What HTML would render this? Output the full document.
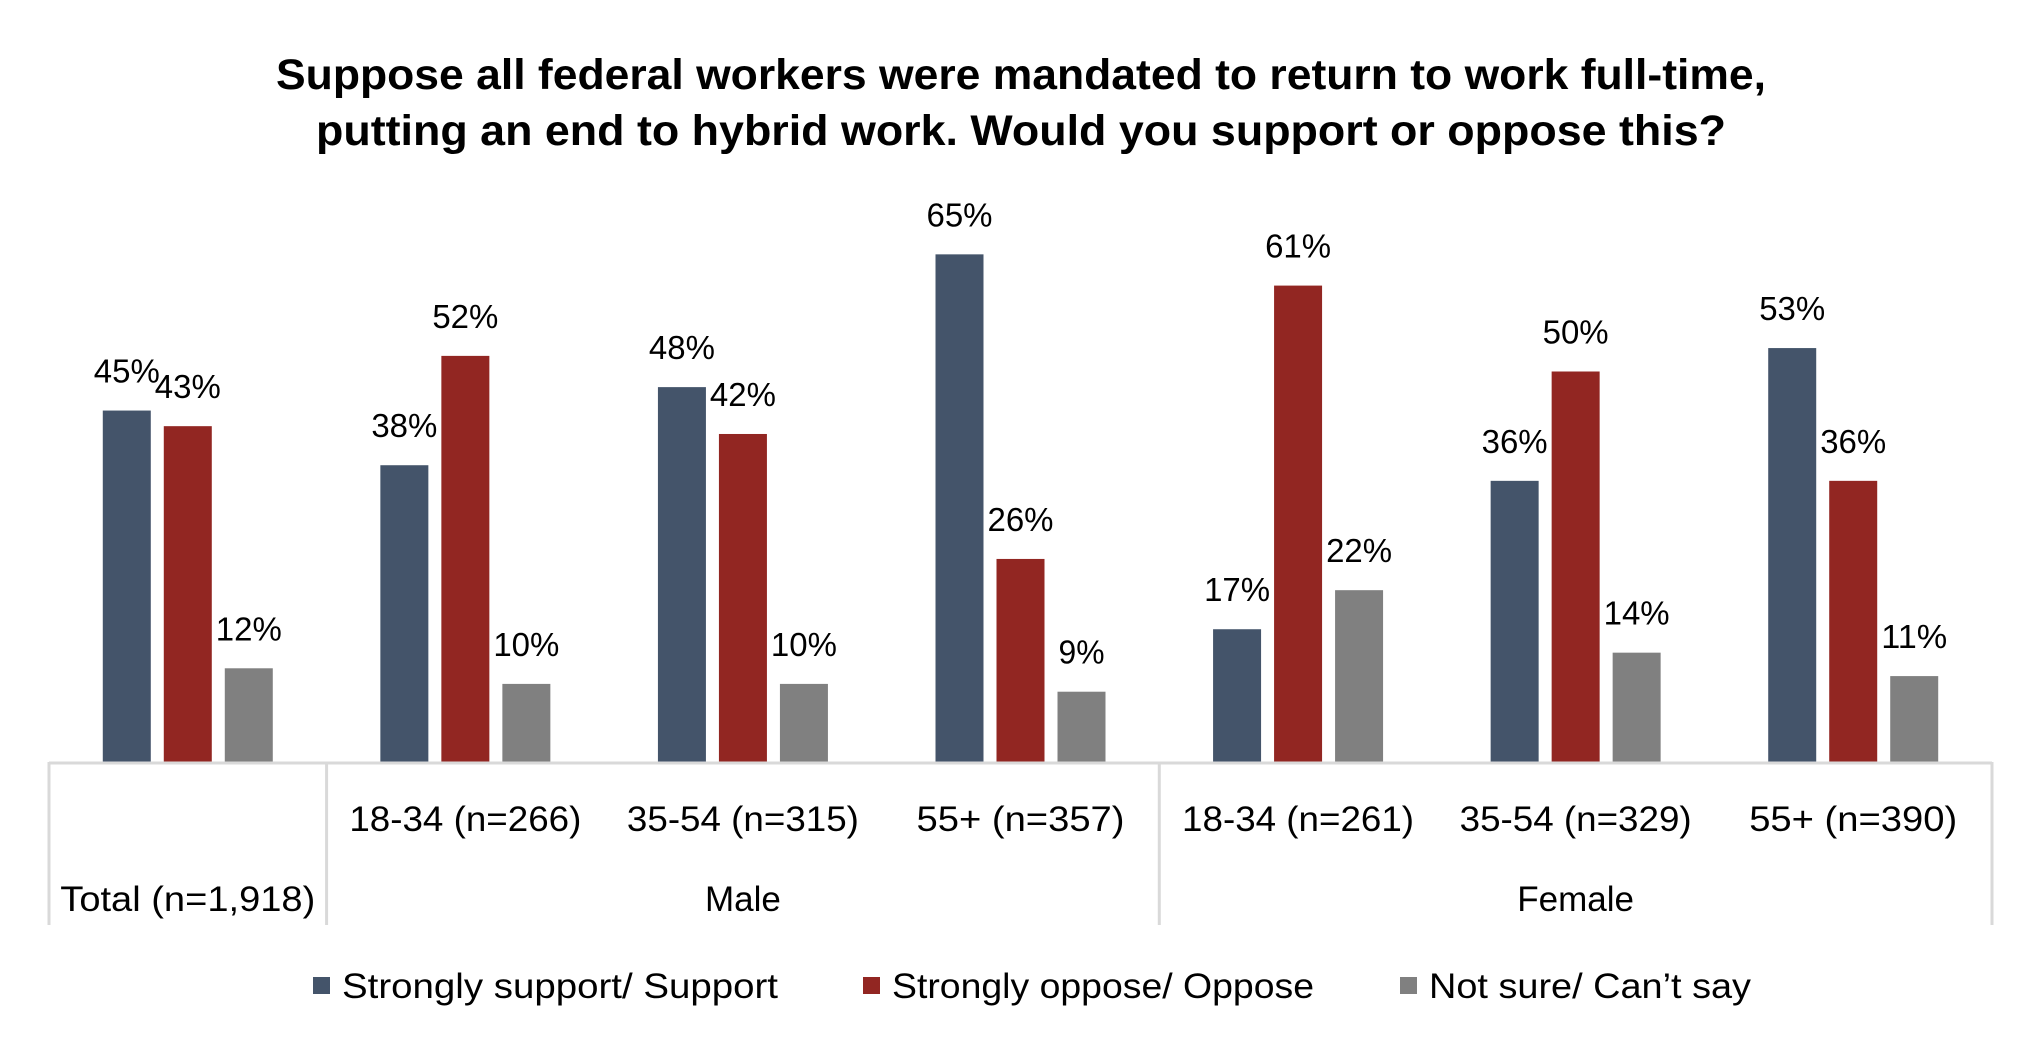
<!DOCTYPE html>
<html><head><meta charset="utf-8"><style>
html,body{margin:0;padding:0;background:#fff;}
svg{display:block;font-family:"Liberation Sans","DejaVu Sans",sans-serif;}
</style></head><body>
<svg id="chart" width="2042" height="1052" viewBox="0 0 2042 1052">
<text x="1021" y="89" text-anchor="middle" font-size="43" font-weight="bold" fill="#000" textLength="1490" lengthAdjust="spacingAndGlyphs">Suppose all federal workers were mandated to return to work full-time,</text>
<text x="1021" y="145" text-anchor="middle" font-size="43" font-weight="bold" fill="#000" textLength="1410" lengthAdjust="spacingAndGlyphs">putting an end to hybrid work. Would you support or oppose this?</text>
<g id="bars"></g>
<g id="axis"></g>
<g id="legend"></g>
</svg>
<script>
const categories = ["Total (n=1,918)","18-34 (n=266)","35-54 (n=315)","55+ (n=357)","18-34 (n=261)","35-54 (n=329)","55+ (n=390)"];
const groupLabels = ["Male","Female"];
const seriesNames = ["Strongly support/ Support","Strongly oppose/ Oppose","Not sure/ Can\u2019t say"];
const supportVals = [45,38,48,65,17,36,53];
const opposeVals = [43,52,42,26,61,50,36];
const notSureVals = [12,10,10,9,22,14,11];

const colors = ["#44546a","#922622","#808080"];
const ns = "http://www.w3.org/2000/svg";
const x0 = 49, x1 = 1992, baseY = 762, pxPerPct = 7.81;
const gw = (x1 - x0) / categories.length;
const bw = 48, step = 61;
function yScale(v){ return baseY - v * pxPerPct; }
function groupCenter(i){ return x0 + gw * (i + 0.5); }
function mk(tag, attrs, parent){ const e = document.createElementNS(ns, tag); for (const k in attrs) e.setAttribute(k, attrs[k]); parent.appendChild(e); return e; }

const barsG = document.getElementById('bars');
const series = [supportVals, opposeVals, notSureVals];
const keys = ["support","oppose","not-sure"];
series.forEach((vals, s) => {
  vals.forEach((v, i) => {
    const cx = groupCenter(i) + (s - 1) * step;
    const r = mk('rect', {x: cx - bw/2, y: yScale(v), width: bw, height: baseY - yScale(v), fill: colors[s]}, barsG);
    
    
    const t = mk('text', {x: cx, y: yScale(v) - 28, 'text-anchor': 'middle', 'font-size': 33, fill: '#000', textLength: String(v).length > 1 ? 66 : 46, lengthAdjust: 'spacingAndGlyphs'}, barsG);
    t.textContent = v + '%';
    
    
  });
});

const axG = document.getElementById('axis');
const ln = mk('line', {x1: x0, y1: baseY + 1, x2: x1, y2: baseY + 1, stroke: '#d9d9d9', 'stroke-width': 3}, axG);


[0, 1, 4, 7].forEach(k => {
  const xx = x0 + gw * k;
  const v = mk('line', {x1: xx, y1: baseY, x2: xx, y2: 925, stroke: '#d9d9d9', 'stroke-width': 3}, axG);
  
  
});
const tickLens = [255, 232, 232, 208, 232, 232, 208];
categories.forEach((c, i) => {
  const t = mk('text', {x: groupCenter(i), y: i === 0 ? 911 : 831, 'text-anchor': 'middle', 'font-size': 35, fill: '#000', textLength: tickLens[i], lengthAdjust: 'spacingAndGlyphs'}, axG);
  t.textContent = c;
  
  
});
[[1,4],[4,7]].forEach((r, g) => {
  const t = mk('text', {x: x0 + gw * (r[0] + r[1]) / 2, y: 911, 'text-anchor': 'middle', 'font-size': 35, fill: '#000'}, axG);
  t.textContent = groupLabels[g];
  
  
});

const lg = document.getElementById('legend');
const lx = [313, 863, 1400];
const lw = [436, 422, 322];
seriesNames.forEach((n, s) => {
  const r = mk('rect', {x: lx[s], y: 977, width: 17, height: 17, fill: colors[s]}, lg);
  
  
  const t = mk('text', {x: lx[s] + 29, y: 998, 'font-size': 35, fill: '#000', textLength: lw[s], lengthAdjust: 'spacingAndGlyphs'}, lg);
  t.textContent = n;
  
  
});
</script>
</body></html>
